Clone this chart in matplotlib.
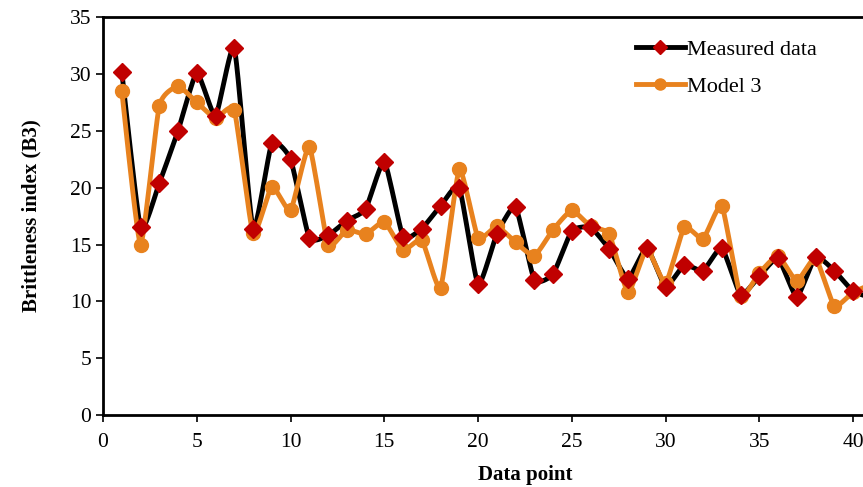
import numpy as np
import matplotlib.pyplot as plt

plt.rcParams['font.family'] = ['Liberation Serif', 'DejaVu Serif']

# data
points = list(range(1, 42))
measured = [30.2, 16.5, 20.4, 25.0, 30.1, 26.3, 32.3, 16.4, 23.9, 22.5,
            15.6, 15.8, 17.1, 18.1, 22.3, 15.7, 16.4, 18.4, 20.0, 11.5,
            15.9, 18.3, 11.9, 12.4, 16.2, 16.5, 14.6, 12.0, 14.7, 11.3,
            13.2, 12.7, 14.7, 10.6, 12.2, 13.8, 10.4, 13.9, 12.7, 10.9,
            10.3]
model3 = [28.5, 15.0, 27.2, 28.9, 27.5, 26.1, 26.8, 16.0, 20.1, 18.0,
          23.6, 15.0, 16.3, 15.9, 17.0, 14.5, 15.4, 11.2, 21.6, 15.6,
          16.6, 15.2, 14.0, 16.3, 18.0, 16.6, 15.9, 10.8, 14.6, 11.6,
          16.5, 15.5, 18.4, 10.5, 12.5, 14.0, 11.8, 13.8, 9.6, 10.8,
          11.5]


def smooth(x, y, n=12, t=0.25):
    # Catmull-Rom style curve through the points, like Excel's smoothed line
    x = np.asarray(x, float)
    y = np.asarray(y, float)
    px = np.concatenate([[x[0]], x, [x[-1]]])
    py = np.concatenate([[y[0]], y, [y[-1]]])
    xs, ys = [], []
    s = np.linspace(0, 1, n, endpoint=False)
    for i in range(1, len(px) - 2):
        for p, out in ((px, xs), (py, ys)):
            p0, p1, p2, p3 = p[i - 1], p[i], p[i + 1], p[i + 2]
            m1 = t * (p2 - p0)
            m2 = t * (p3 - p1)
            h00 = 2 * s**3 - 3 * s**2 + 1
            h10 = s**3 - 2 * s**2 + s
            h01 = -2 * s**3 + 3 * s**2
            h11 = s**3 - s**2
            out.extend(h00 * p1 + h10 * m1 + h01 * p2 + h11 * m2)
    xs.append(x[-1])
    ys.append(y[-1])
    return xs, ys


fig = plt.figure(figsize=(8.63, 4.87), dpi=100)
ax = fig.add_axes([0.1194, 0.1478, 0.9777, 0.817])

sx, sy = smooth(points, measured)
ax.plot(sx, sy, color='black', lw=3.5, zorder=2)
ax.plot(points, measured, ls='none', marker='D', ms=9, color='#c00000', zorder=4)

sx, sy = smooth(points, model3)
ax.plot(sx, sy, color='#e8821e', lw=3.5, zorder=3)
ax.plot(points, model3, ls='none', marker='o', ms=10, color='#e8821e', zorder=3)

# legend handles
ax.plot([], [], color='black', lw=3.5, marker='D', ms=7, mfc='#c00000', mec='#c00000', label='Measured data')
ax.plot([], [], color='#e8821e', lw=3.5, marker='o', ms=8, label='Model 3')
ax.legend(loc='upper left', bbox_to_anchor=(0.608, 0.995), frameon=False,
          fontsize=16, handlelength=2.2, handletextpad=0.1, labelspacing=0.75)

ax.set_xlim(0, 45)
ax.set_ylim(0, 35)
ax.set_xticks(range(0, 46, 5))
ax.set_yticks(range(0, 36, 5))
ax.tick_params(direction='out', labelsize=15.5, width=1.2, length=5)
ax.tick_params(axis='x', pad=8)
for sp in ax.spines.values():
    sp.set_linewidth(2)
ax.set_xlabel('Data point', fontsize=15, fontweight='bold', labelpad=9)
ax.set_ylabel('Brittleness index (B3)', fontsize=15, fontweight='bold', labelpad=20)

fig.savefig('out.png', dpi=100)
